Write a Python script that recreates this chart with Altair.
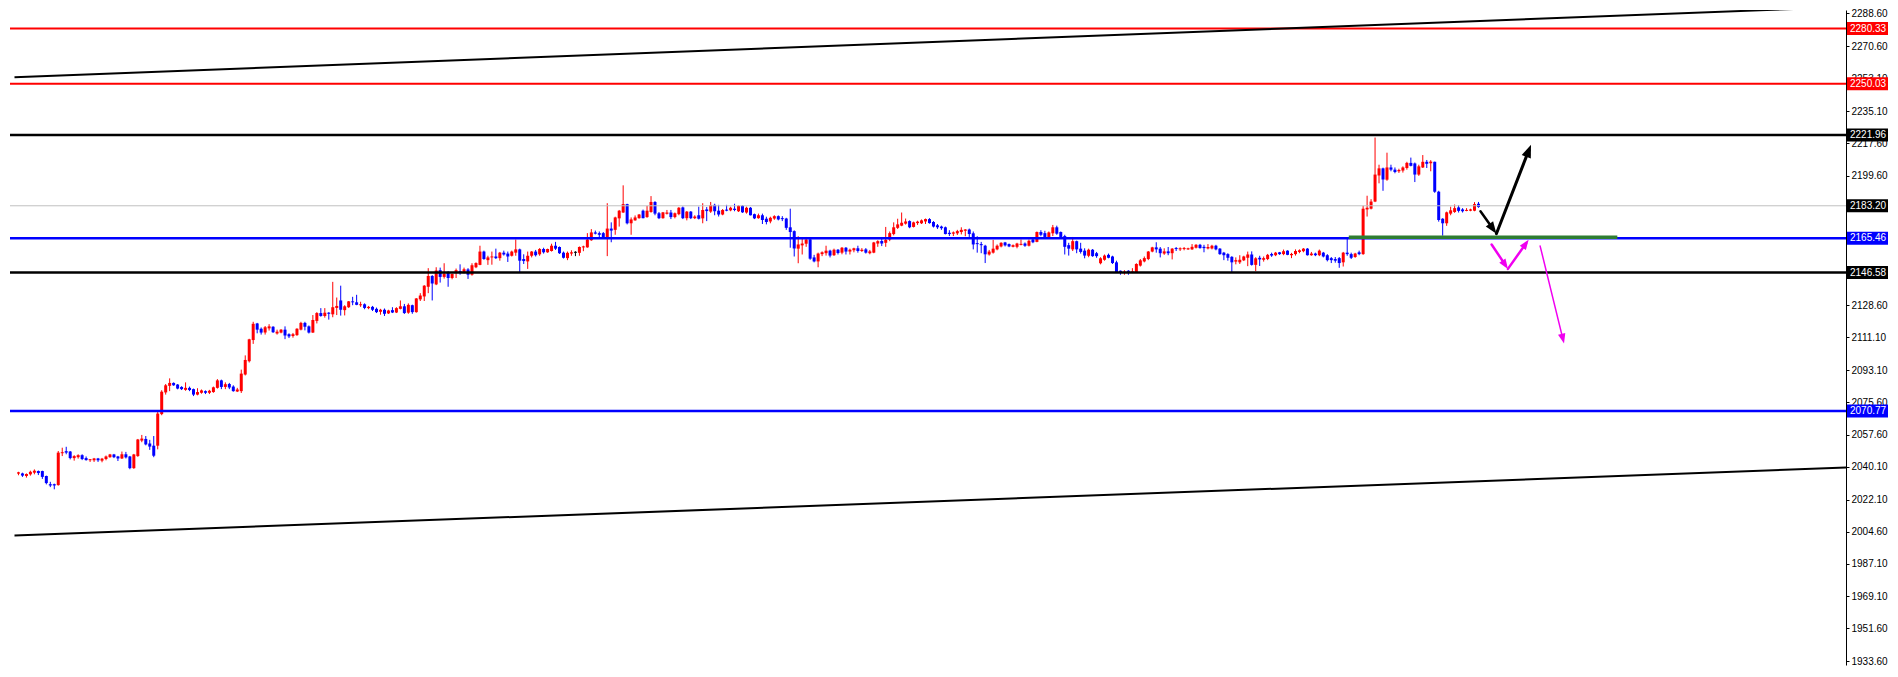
import math
import altair as alt
import pandas as pd

# ---------------- candle data ----------------
opens = [
2036.4, 2036.5, 2035.1, 2036.0, 2036.9, 2037.8, 2037.8, 2035.1, 2030.6, 2030.6,
2030.1, 2047.6, 2048.7, 2048.5, 2044.9, 2045.4, 2046.5, 2044.9, 2043.8, 2043.7,
2044.7, 2043.5, 2044.4, 2045.4, 2046.9, 2045.8, 2044.7, 2047.0, 2045.8, 2039.4,
2046.0, 2054.5, 2055.4, 2052.9, 2051.7, 2051.7, 2069.0, 2080.9, 2084.5, 2086.1,
2085.2, 2083.9, 2082.3, 2083.4, 2082.7, 2079.7, 2080.7, 2081.6, 2080.7, 2081.1,
2083.4, 2087.5, 2083.9, 2085.5, 2084.1, 2081.4, 2081.6, 2090.7, 2098.0, 2109.6,
2118.7, 2115.8, 2113.7, 2116.0, 2116.9, 2113.2, 2113.7, 2115.3, 2112.8, 2111.8,
2112.3, 2115.3, 2119.0, 2117.1, 2113.7, 2120.1, 2124.4, 2122.8, 2124.6, 2123.7,
2127.2, 2131.3, 2126.0, 2127.6, 2130.8, 2130.3, 2128.7, 2129.2, 2127.1, 2127.8,
2126.7, 2125.1, 2126.2, 2124.2, 2126.0, 2124.7, 2126.7, 2128.1, 2124.6, 2128.7,
2124.9, 2131.9, 2133.5, 2138.8, 2144.7, 2140.1, 2147.9, 2144.2, 2146.5, 2143.6,
2146.8, 2147.4, 2146.8, 2148.3, 2145.4, 2149.5, 2150.8, 2158.1, 2153.4, 2154.9,
2155.4, 2154.5, 2157.5, 2157.0, 2155.8, 2157.5, 2159.3, 2154.0, 2152.7, 2155.8,
2158.1, 2156.6, 2159.5, 2157.7, 2158.4, 2161.3, 2160.6, 2157.5, 2154.5, 2157.0,
2157.7, 2157.4, 2160.4, 2160.4, 2164.3, 2168.6, 2168.2, 2168.2, 2165.4, 2170.7,
2170.0, 2176.3, 2179.5, 2184.1, 2173.6, 2175.2, 2176.4, 2180.5, 2177.0, 2179.8,
2185.3, 2179.1, 2176.4, 2178.8, 2179.5, 2177.0, 2178.6, 2182.3, 2176.4, 2180.0,
2176.4, 2178.0, 2176.3, 2181.2, 2180.0, 2183.7, 2180.5, 2178.4, 2181.1, 2180.7,
2181.6, 2180.2, 2183.2, 2179.5, 2182.1, 2178.6, 2176.4, 2178.0, 2176.1, 2174.6,
2176.2, 2177.5, 2176.4, 2176.2, 2171.4, 2169.3, 2159.7, 2161.5, 2162.4, 2164.8,
2154.9, 2152.7, 2156.7, 2157.2, 2158.6, 2156.1, 2159.1, 2157.5, 2160.2, 2158.1,
2158.8, 2159.9, 2158.4, 2159.3, 2157.2, 2157.5, 2162.5, 2163.9, 2162.9, 2164.7,
2167.7, 2171.1, 2172.3, 2173.4, 2174.8, 2171.6, 2173.7, 2173.6, 2174.6, 2175.9,
2174.3, 2172.5, 2171.8, 2171.4, 2168.4, 2167.9, 2168.1, 2168.8, 2169.5, 2170.2,
2168.1, 2162.7, 2162.2, 2161.3, 2156.5, 2157.5, 2159.3, 2160.9, 2163.1, 2162.2,
2160.7, 2160.7, 2161.8, 2162.5, 2161.3, 2164.7, 2163.4, 2168.8, 2168.2, 2166.1,
2168.1, 2171.4, 2168.8, 2166.6, 2161.6, 2159.3, 2163.8, 2159.7, 2158.6, 2155.8,
2159.1, 2157.2, 2151.7, 2153.6, 2156.3, 2155.4, 2152.2, 2147.6, 2146.5, 2147.6,
2146.5, 2146.9, 2150.4, 2152.7, 2154.0, 2158.1, 2160.4, 2159.7, 2157.0, 2158.2,
2157.2, 2160.0, 2159.3, 2159.5, 2159.3, 2159.3, 2160.2, 2161.8, 2160.7, 2159.8,
2159.8, 2161.3, 2159.7, 2157.5, 2156.7, 2155.2, 2152.6, 2152.2, 2153.3, 2154.7,
2156.5, 2150.8, 2154.7, 2153.6, 2154.0, 2156.8, 2156.1, 2157.7, 2156.7, 2158.6,
2156.1, 2156.7, 2157.9, 2158.3, 2159.7, 2156.1, 2157.0, 2156.1, 2157.5, 2156.1,
2154.5, 2154.0, 2154.5, 2152.2, 2157.5, 2156.7, 2155.1, 2157.7, 2156.7, 2181.2,
2181.6, 2185.5, 2199.8, 2203.7, 2197.5, 2204.2, 2203.0, 2202.1, 2202.5, 2203.9,
2206.7, 2206.4, 2200.3, 2204.2, 2207.3, 2206.5, 2207.3, 2190.9, 2176.1, 2173.6,
2178.9, 2179.8, 2182.3, 2181.2, 2180.4, 2180.5, 2180.5, 2184.3,
]
highs = [
2037.4, 2036.9, 2036.5, 2038.0, 2038.7, 2038.1, 2038.0, 2035.3, 2031.9, 2030.9,
2048.8, 2050.6, 2051.1, 2048.8, 2046.5, 2047.0, 2047.0, 2045.8, 2044.4, 2045.0,
2045.0, 2045.0, 2046.3, 2047.2, 2047.2, 2046.1, 2048.5, 2048.3, 2046.1, 2047.2,
2055.4, 2057.6, 2057.0, 2054.9, 2057.0, 2070.2, 2082.1, 2085.5, 2088.6, 2086.4,
2085.5, 2084.3, 2086.4, 2084.1, 2083.0, 2083.2, 2082.5, 2082.0, 2082.3, 2084.1,
2088.2, 2087.9, 2086.4, 2086.1, 2084.8, 2083.4, 2093.4, 2101.2, 2110.3, 2119.6,
2119.0, 2116.5, 2117.3, 2118.3, 2117.2, 2115.3, 2115.6, 2117.1, 2113.3, 2113.5,
2116.1, 2119.6, 2119.6, 2117.6, 2123.3, 2124.9, 2127.1, 2127.1, 2124.9, 2141.5,
2132.9, 2139.4, 2128.7, 2131.0, 2133.3, 2134.4, 2130.6, 2129.7, 2128.3, 2128.3,
2127.4, 2126.7, 2126.9, 2126.2, 2127.6, 2127.6, 2131.3, 2129.4, 2129.7, 2129.0,
2132.6, 2135.3, 2139.7, 2149.0, 2145.2, 2149.5, 2149.3, 2151.7, 2147.4, 2146.0,
2148.8, 2151.1, 2149.3, 2149.0, 2151.7, 2152.2, 2161.3, 2158.6, 2155.8, 2158.1,
2159.7, 2157.9, 2158.6, 2158.1, 2158.6, 2164.7, 2159.7, 2156.6, 2158.1, 2158.4,
2159.0, 2160.0, 2160.2, 2159.7, 2162.4, 2163.4, 2160.9, 2158.1, 2158.1, 2158.8,
2158.3, 2160.9, 2161.3, 2168.2, 2170.4, 2169.6, 2169.1, 2168.8, 2184.6, 2174.1,
2177.2, 2180.9, 2194.4, 2184.3, 2176.8, 2177.9, 2178.7, 2181.1, 2183.2, 2188.5,
2185.7, 2179.8, 2179.8, 2180.9, 2180.9, 2179.5, 2182.5, 2182.8, 2180.3, 2180.3,
2178.0, 2182.7, 2184.6, 2182.5, 2185.3, 2184.3, 2183.7, 2181.4, 2183.7, 2182.7,
2184.3, 2183.6, 2183.6, 2182.7, 2182.5, 2178.9, 2178.9, 2178.9, 2177.2, 2177.2,
2178.0, 2177.9, 2177.5, 2176.6, 2181.6, 2169.7, 2166.5, 2165.6, 2166.1, 2165.2,
2156.3, 2157.5, 2158.2, 2161.3, 2159.1, 2159.7, 2159.5, 2160.6, 2160.6, 2159.7,
2160.2, 2161.3, 2160.0, 2160.0, 2159.0, 2163.4, 2164.3, 2166.1, 2171.6, 2169.1,
2174.1, 2176.1, 2179.5, 2176.2, 2175.2, 2174.5, 2175.0, 2175.7, 2176.2, 2176.4,
2174.8, 2173.2, 2172.3, 2171.8, 2169.8, 2169.1, 2170.0, 2171.4, 2170.4, 2170.7,
2169.1, 2166.5, 2163.4, 2161.8, 2159.0, 2164.5, 2162.0, 2163.2, 2163.4, 2162.5,
2162.0, 2162.9, 2164.7, 2163.1, 2164.7, 2165.4, 2169.1, 2169.8, 2169.5, 2169.1,
2172.7, 2172.3, 2169.1, 2167.3, 2162.9, 2166.1, 2164.1, 2162.9, 2159.9, 2159.7,
2159.5, 2157.9, 2155.0, 2156.5, 2157.0, 2155.8, 2153.1, 2147.7, 2147.9, 2147.9,
2149.0, 2151.7, 2154.0, 2155.4, 2158.4, 2160.7, 2163.2, 2160.6, 2159.9, 2160.6,
2160.0, 2160.6, 2160.4, 2160.6, 2160.2, 2162.2, 2162.2, 2162.3, 2161.8, 2162.2,
2161.8, 2161.8, 2160.0, 2157.9, 2157.2, 2155.6, 2154.9, 2156.1, 2155.8, 2158.1,
2158.2, 2155.0, 2155.8, 2155.4, 2156.8, 2157.5, 2157.9, 2157.9, 2159.2, 2158.8,
2157.4, 2159.3, 2159.3, 2160.0, 2160.0, 2157.9, 2157.5, 2159.2, 2157.9, 2156.7,
2155.1, 2155.1, 2155.1, 2157.9, 2165.0, 2157.5, 2157.4, 2158.6, 2183.2, 2188.7,
2186.8, 2220.6, 2205.7, 2204.1, 2212.3, 2205.7, 2204.2, 2203.5, 2204.8, 2207.3,
2209.6, 2206.9, 2205.7, 2211.0, 2208.3, 2208.2, 2207.4, 2191.4, 2176.4, 2180.0,
2182.7, 2183.9, 2183.6, 2181.9, 2181.9, 2181.6, 2185.2, 2185.3,
]
lows = [
2035.5, 2034.6, 2034.2, 2035.3, 2036.0, 2035.6, 2033.5, 2030.5, 2029.0, 2027.8,
2029.8, 2046.0, 2047.0, 2044.2, 2043.5, 2044.6, 2043.8, 2043.5, 2042.8, 2042.8,
2042.8, 2042.6, 2043.7, 2045.1, 2044.9, 2043.3, 2044.4, 2044.7, 2038.8, 2039.0,
2045.6, 2053.6, 2051.9, 2049.4, 2045.4, 2049.7, 2068.4, 2079.7, 2081.6, 2084.5,
2082.6, 2082.2, 2081.8, 2081.6, 2078.9, 2079.3, 2080.2, 2080.0, 2080.0, 2080.7,
2083.0, 2082.7, 2082.7, 2082.7, 2081.3, 2081.1, 2080.6, 2090.2, 2097.3, 2107.5,
2113.3, 2112.6, 2112.6, 2114.8, 2113.5, 2112.6, 2113.3, 2110.1, 2110.7, 2110.9,
2111.9, 2114.9, 2114.9, 2113.2, 2113.5, 2118.7, 2122.4, 2121.9, 2120.8, 2122.1,
2123.3, 2123.0, 2123.1, 2127.2, 2128.7, 2128.7, 2127.8, 2126.5, 2126.5, 2125.5,
2124.4, 2123.5, 2122.8, 2123.9, 2124.4, 2124.4, 2126.4, 2123.9, 2124.0, 2124.0,
2124.6, 2131.0, 2131.0, 2135.3, 2131.3, 2139.7, 2141.1, 2143.3, 2138.8, 2142.9,
2143.6, 2145.4, 2146.1, 2143.1, 2144.9, 2149.0, 2150.6, 2153.6, 2150.8, 2150.9,
2154.0, 2153.1, 2155.9, 2152.4, 2155.4, 2155.8, 2146.9, 2151.3, 2148.6, 2154.9,
2155.4, 2155.8, 2157.0, 2157.4, 2158.1, 2159.0, 2156.8, 2154.3, 2153.4, 2155.8,
2155.6, 2155.8, 2158.3, 2160.2, 2164.0, 2167.5, 2165.9, 2165.0, 2155.6, 2163.2,
2167.3, 2171.8, 2179.3, 2173.0, 2167.3, 2175.0, 2176.1, 2176.3, 2176.6, 2179.4,
2178.0, 2175.9, 2176.1, 2178.4, 2175.9, 2176.3, 2178.0, 2175.9, 2175.2, 2175.9,
2175.9, 2175.7, 2173.6, 2174.8, 2179.3, 2178.0, 2177.3, 2178.0, 2180.2, 2180.2,
2180.2, 2179.8, 2179.3, 2178.9, 2177.9, 2175.9, 2176.1, 2173.2, 2173.0, 2173.6,
2175.5, 2175.2, 2174.8, 2170.0, 2160.2, 2155.4, 2151.7, 2156.5, 2160.7, 2153.6,
2152.2, 2149.5, 2155.6, 2155.9, 2154.9, 2155.7, 2156.5, 2156.6, 2156.5, 2156.5,
2157.7, 2157.5, 2157.9, 2157.0, 2156.6, 2157.2, 2160.7, 2161.1, 2160.7, 2163.8,
2167.0, 2170.5, 2172.0, 2172.9, 2170.9, 2171.3, 2172.7, 2173.2, 2173.2, 2173.4,
2171.3, 2170.5, 2170.0, 2167.5, 2166.6, 2166.6, 2167.2, 2167.5, 2166.5, 2166.1,
2159.3, 2157.5, 2157.2, 2151.8, 2155.9, 2157.0, 2158.8, 2160.4, 2160.9, 2160.5,
2160.4, 2159.9, 2161.5, 2160.7, 2160.9, 2162.7, 2163.2, 2166.5, 2165.6, 2165.7,
2166.6, 2167.3, 2165.4, 2156.5, 2155.9, 2158.4, 2157.2, 2157.0, 2154.4, 2155.0,
2155.2, 2154.7, 2151.1, 2153.1, 2154.4, 2151.3, 2146.5, 2145.4, 2145.4, 2145.4,
2146.3, 2146.5, 2149.9, 2152.2, 2153.4, 2157.7, 2157.5, 2154.9, 2156.3, 2156.1,
2153.8, 2158.4, 2158.4, 2158.8, 2159.0, 2159.0, 2159.8, 2159.7, 2157.7, 2159.3,
2159.3, 2158.8, 2156.3, 2153.4, 2153.1, 2146.9, 2151.1, 2151.3, 2152.9, 2150.1,
2150.4, 2147.4, 2150.2, 2152.6, 2153.4, 2155.2, 2155.6, 2156.3, 2156.1, 2156.1,
2154.5, 2155.9, 2157.2, 2157.7, 2155.9, 2155.8, 2155.6, 2155.6, 2154.9, 2152.7,
2151.8, 2152.0, 2149.2, 2149.9, 2155.8, 2154.0, 2154.7, 2156.1, 2156.3, 2177.3,
2181.2, 2185.2, 2195.5, 2191.4, 2196.9, 2202.1, 2201.0, 2201.2, 2201.4, 2203.0,
2204.8, 2196.2, 2199.6, 2203.9, 2203.9, 2202.1, 2190.3, 2174.5, 2166.8, 2172.2,
2178.0, 2179.3, 2179.5, 2179.5, 2180.2, 2180.2, 2180.2, 2182.1,
]
closes = [
2037.1, 2035.3, 2036.2, 2037.4, 2038.0, 2036.7, 2034.6, 2031.2, 2029.9, 2029.9,
2047.9, 2048.1, 2047.9, 2044.9, 2046.0, 2046.5, 2044.4, 2043.8, 2044.2, 2044.7,
2043.7, 2044.6, 2045.8, 2046.9, 2045.4, 2044.7, 2047.0, 2045.3, 2039.4, 2046.9,
2055.1, 2055.6, 2052.4, 2051.2, 2046.2, 2069.3, 2081.3, 2084.8, 2086.1, 2084.8,
2083.0, 2082.7, 2083.4, 2082.2, 2079.7, 2081.1, 2082.0, 2080.7, 2081.8, 2083.7,
2087.5, 2083.9, 2085.4, 2083.6, 2081.6, 2082.5, 2091.2, 2098.7, 2110.0, 2118.5,
2115.3, 2113.7, 2116.6, 2117.1, 2113.9, 2114.2, 2115.3, 2112.1, 2111.6, 2112.8,
2115.8, 2119.0, 2116.9, 2113.7, 2120.6, 2124.4, 2122.8, 2124.6, 2124.0, 2127.6,
2128.3, 2126.2, 2128.1, 2130.8, 2130.3, 2128.9, 2129.2, 2127.2, 2127.8, 2126.2,
2124.9, 2126.2, 2124.0, 2125.8, 2124.7, 2127.1, 2128.1, 2124.4, 2128.9, 2124.9,
2132.4, 2134.0, 2139.4, 2144.7, 2140.6, 2147.7, 2144.2, 2146.0, 2143.6, 2145.8,
2147.9, 2146.7, 2148.4, 2145.4, 2150.6, 2151.8, 2158.1, 2154.0, 2154.9, 2155.4,
2154.5, 2157.5, 2156.5, 2155.4, 2158.1, 2159.3, 2153.1, 2152.9, 2155.8, 2158.1,
2156.1, 2159.5, 2157.7, 2159.5, 2161.3, 2159.7, 2157.2, 2154.7, 2157.4, 2157.7,
2157.7, 2160.6, 2160.9, 2164.7, 2168.6, 2167.9, 2167.3, 2165.4, 2170.7, 2169.6,
2176.8, 2180.5, 2184.1, 2173.6, 2175.7, 2176.8, 2178.4, 2176.4, 2180.5, 2185.3,
2178.9, 2176.4, 2179.6, 2179.5, 2177.0, 2179.1, 2182.1, 2176.4, 2180.0, 2176.4,
2177.3, 2176.1, 2180.9, 2180.3, 2183.6, 2180.2, 2178.4, 2180.9, 2180.5, 2182.1,
2180.9, 2183.2, 2179.6, 2182.1, 2178.0, 2176.3, 2178.0, 2175.4, 2174.3, 2176.6,
2177.5, 2175.7, 2175.9, 2171.1, 2168.8, 2159.8, 2162.0, 2162.5, 2164.7, 2154.2,
2152.7, 2157.0, 2157.7, 2158.6, 2155.9, 2159.1, 2157.3, 2160.2, 2158.1, 2159.1,
2159.9, 2158.4, 2159.1, 2157.5, 2158.2, 2163.1, 2163.8, 2162.5, 2164.5, 2168.2,
2171.4, 2173.0, 2173.9, 2174.6, 2171.4, 2174.1, 2174.5, 2175.2, 2175.9, 2173.7,
2171.8, 2171.4, 2170.9, 2167.7, 2167.7, 2168.6, 2169.3, 2170.0, 2170.2, 2167.7,
2162.0, 2162.2, 2161.6, 2156.6, 2158.1, 2159.7, 2161.3, 2162.9, 2161.5, 2160.9,
2161.6, 2162.5, 2162.3, 2161.3, 2164.0, 2163.2, 2168.8, 2167.3, 2166.1, 2168.6,
2171.4, 2167.9, 2166.1, 2160.7, 2159.7, 2163.8, 2159.3, 2157.9, 2155.9, 2159.1,
2155.6, 2155.6, 2154.4, 2155.9, 2154.7, 2151.8, 2146.9, 2146.5, 2147.1, 2146.9,
2147.2, 2151.3, 2153.3, 2154.5, 2158.1, 2160.4, 2159.3, 2157.2, 2158.2, 2157.2,
2159.7, 2159.5, 2159.9, 2160.0, 2159.9, 2160.7, 2161.8, 2160.0, 2160.0, 2160.6,
2161.3, 2159.3, 2156.7, 2156.1, 2154.7, 2152.2, 2153.4, 2153.6, 2155.4, 2156.5,
2150.8, 2154.4, 2153.8, 2154.5, 2156.3, 2155.9, 2157.5, 2156.7, 2158.3, 2156.3,
2156.8, 2158.4, 2158.8, 2159.7, 2156.1, 2157.0, 2156.1, 2158.6, 2155.4, 2153.4,
2153.4, 2153.1, 2151.8, 2157.5, 2156.7, 2154.7, 2157.0, 2156.7, 2181.6, 2182.1,
2185.5, 2200.3, 2203.7, 2197.6, 2204.2, 2203.0, 2201.7, 2202.8, 2204.2, 2206.7,
2205.1, 2200.3, 2204.8, 2207.3, 2206.2, 2207.4, 2190.9, 2175.4, 2173.6, 2179.6,
2180.7, 2181.9, 2180.4, 2180.2, 2180.9, 2181.2, 2184.1, 2182.5,
]

# horizontal levels
level_values = [2280.33, 2250.03, 2221.96, 2183.20, 2165.46, 2146.58, 2070.77]
level_colors = ["#ff0000", "#ff0000", "#000000", "#c0c0c0", "#0000ff", "#000000", "#0000ff"]
level_widths = [2, 2, 2.5, 1, 2.5, 2.5, 2.5]
label_colors = ["#ff0000", "#ff0000", "#000000", "#000000", "#0000ff", "#000000", "#0000ff"]

# price-axis ticks
axis_ticks = [2288.6, 2270.6, 2253.1, 2235.1, 2217.6, 2199.6, 2181.6, 2164.1, 2146.6,
              2128.6, 2111.1, 2093.1, 2075.6, 2057.6, 2040.1, 2022.1, 2004.6, 1987.1,
              1969.1, 1951.6, 1933.6]

# channel lines (bar index, price)
upper_x = [-1, 460]
upper_y = [2253.7, 2292.2]
lower_x = [-1, 463]
lower_y = [2002.5, 2040.0]

# green support segment
support_x = [334.4, 401.9]
support_price = 2166.0

# arrows: start idx, start price, end idx, end price
arrow_x1 = [367.5, 371.5, 370.3, 374.4, 382.5]
arrow_y1 = [2180.2, 2167.9, 2162.0, 2148.6, 2161.1]
arrow_x2 = [371.5, 380.2, 374.4, 379.6, 388.5]
arrow_y2 = [2167.9, 2216.7, 2148.6, 2164.6, 2107.7]
arrow_colors = ["#000000", "#000000", "#f000f0", "#f000f0", "#f000f0"]
arrow_widths = [2.5, 3, 2.5, 2.5, 1.5]
arrow_heads = [6, 6.5, 5, 5, 5]

# ---------------- layout ----------------
W, H = 1836, 655
X_MIN = -0.875
X_MAX = X_MIN + W / 4.0
Y_MIN, Y_MAX = 1931.5, 2290.5
SX = W / (X_MAX - X_MIN)
SY = H / (Y_MAX - Y_MIN)
FONT = "Liberation Sans"

xs = alt.Scale(domain=[X_MIN, X_MAX], nice=False, zero=False)
ys = alt.Scale(domain=[Y_MIN, Y_MAX], nice=False, zero=False)
yaxis = alt.Axis(orient="right", values=axis_ticks, format=".2f", title=None, grid=False,
                 domainColor="#000000", domainWidth=1, tickColor="#000000", tickSize=3,
                 tickWidth=1, labelColor="#000000", labelFont=FONT, labelFontSize=10,
                 labelPadding=2, labelOverlap=False, labelFlush=False)

# candles table
min_body = 1.0 / SY
rows = []
for i in range(len(closes)):
    o, h, l, c = opens[i], highs[i], lows[i], closes[i]
    lo, hi = min(o, c), max(o, c)
    if hi - lo < min_body:
        mid = (hi + lo) / 2
        lo, hi = mid - min_body / 2, mid + min_body / 2
    col = "#ff0000" if c > o else ("#0000ff" if c < o else "#000000")
    rows.append(dict(idx=i, h=h, l=l, lo=lo, hi=hi, col=col))
candles = pd.DataFrame(rows)

wicks = alt.Chart(candles).mark_rule(strokeWidth=1).encode(
    x=alt.X("idx:Q", scale=xs, axis=None),
    y=alt.Y("l:Q", scale=ys, axis=yaxis),
    y2="h:Q",
    color=alt.Color("col:N", scale=None),
)
bodies = alt.Chart(candles).mark_bar(size=3).encode(
    x=alt.X("idx:Q", scale=xs, axis=None),
    y=alt.Y("lo:Q", scale=ys, axis=yaxis),
    y2="hi:Q",
    color=alt.Color("col:N", scale=None),
)

levels_df = pd.DataFrame({"v": level_values, "col": level_colors, "w": level_widths})
levels = alt.Chart(levels_df).mark_rule().encode(
    y=alt.Y("v:Q", scale=ys, axis=yaxis),
    color=alt.Color("col:N", scale=None),
    strokeWidth=alt.StrokeWidth("w:Q", scale=None),
)

trend_df = pd.DataFrame({
    "line": ["u", "u", "d", "d"],
    "x": upper_x + lower_x,
    "y": upper_y + lower_y,
})
trends = alt.Chart(trend_df).mark_line(color="#000000", strokeWidth=2, clip=True).encode(
    x=alt.X("x:Q", scale=xs, axis=None),
    y=alt.Y("y:Q", scale=ys, axis=yaxis),
    detail="line:N",
)

support_df = pd.DataFrame({"x1": [support_x[0]], "x2": [support_x[1]], "y": [support_price]})
support = alt.Chart(support_df).mark_rule(color="#2e7d32", strokeWidth=3.5).encode(
    x=alt.X("x1:Q", scale=xs, axis=None), x2="x2:Q",
    y=alt.Y("y:Q", scale=ys, axis=yaxis),
)

# arrows
shaft_rows, head_rows = [], []
for x1, y1, x2, y2, col, w, r in zip(arrow_x1, arrow_y1, arrow_x2, arrow_y2,
                                     arrow_colors, arrow_widths, arrow_heads):
    dxp = (x2 - x1) * SX
    dyp = -(y2 - y1) * SY
    ln = math.hypot(dxp, dyp)
    ux, uy = dxp / ln, dyp / ln
    ang = math.degrees(math.atan2(dxp, -dyp)) % 360
    cx = x2 - ux * r / SX
    cy = y2 + uy * r / SY
    ex = x2 - ux * r * 0.9 / SX
    ey = y2 + uy * r * 0.9 / SY
    shaft_rows.append(dict(x1=x1, y1=y1, x2=ex, y2=ey, col=col, w=w))
    head_rows.append(dict(x=cx, y=cy, col=col, ang=ang, s=(2 * r) ** 2))
shafts = alt.Chart(pd.DataFrame(shaft_rows)).mark_rule(strokeCap="round").encode(
    x=alt.X("x1:Q", scale=xs, axis=None), x2="x2:Q",
    y=alt.Y("y1:Q", scale=ys, axis=yaxis), y2="y2:Q",
    color=alt.Color("col:N", scale=None),
    strokeWidth=alt.StrokeWidth("w:Q", scale=None),
)
heads = alt.Chart(pd.DataFrame(head_rows)).mark_point(
    shape="M0,-1L0.75,1L-0.75,1Z", filled=True, opacity=1, strokeWidth=0).encode(
    x=alt.X("x:Q", scale=xs, axis=None),
    y=alt.Y("y:Q", scale=ys, axis=yaxis),
    color=alt.Color("col:N", scale=None),
    angle=alt.Angle("ang:Q", scale=None),
    size=alt.Size("s:Q", scale=None),
)

# price labels on the axis
half = 6.5 / SY
lab_df = pd.DataFrame({
    "v": level_values,
    "lo": [v - half for v in level_values],
    "hi": [v + half for v in level_values],
    "bg": label_colors,
    "txt": [f"{v:.2f}" for v in level_values],
})
lab_boxes = alt.Chart(lab_df).mark_rect().encode(
    x=alt.value(W + 1), x2=alt.value(W + 42),
    y=alt.Y("lo:Q", scale=ys, axis=yaxis), y2="hi:Q",
    color=alt.Color("bg:N", scale=None),
)
lab_text = alt.Chart(lab_df).mark_text(
    align="left", baseline="middle", font=FONT, fontSize=10, color="#ffffff").encode(
    x=alt.value(W + 4),
    y=alt.Y("v:Q", scale=ys, axis=yaxis),
    text="txt:N",
)

chart = alt.layer(
    wicks, bodies, levels, trends, support, shafts, heads, lab_boxes, lab_text
).properties(
    width=W, height=H, padding=0, background="#ffffff"
).configure_view(stroke=None)

chart.save("out.html", embed_options={"renderer": "svg", "actions": False})
